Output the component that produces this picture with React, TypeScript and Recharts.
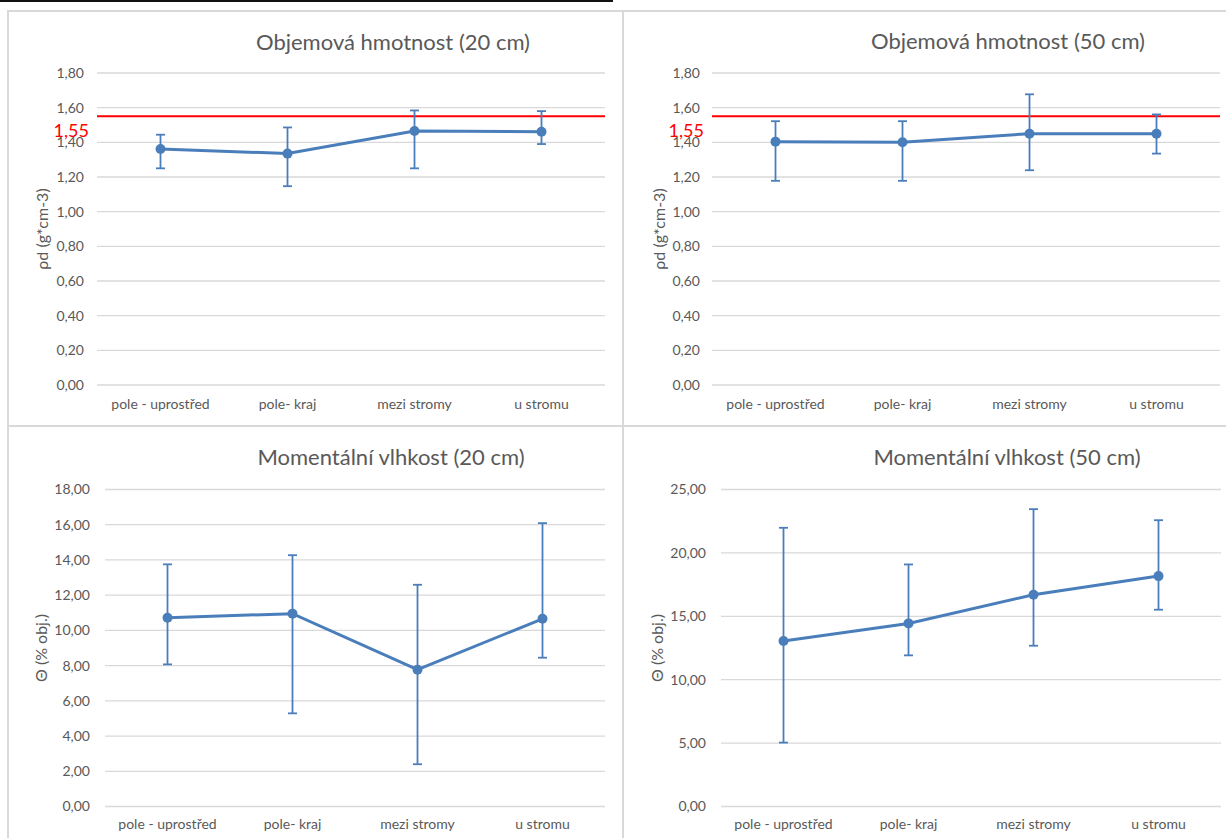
import { LineChart, Line, XAxis, YAxis, CartesianGrid, ErrorBar, ReferenceLine, Label } from "recharts"

const categories = ["pole - uprostřed", "pole- kraj", "mezi stromy", "u stromu"]

const density20Mean = [1.362, 1.335, 1.465, 1.461]
const density20Low = [1.25, 1.147, 1.25, 1.39]
const density20High = [1.444, 1.486, 1.584, 1.58]

const density50Mean = [1.404, 1.4, 1.45, 1.45]
const density50Low = [1.178, 1.178, 1.239, 1.335]
const density50High = [1.522, 1.522, 1.677, 1.561]

const moisture20Mean = [10.72, 10.95, 7.77, 10.66]
const moisture20Low = [8.07, 5.29, 2.4, 8.45]
const moisture20High = [13.75, 14.27, 12.59, 16.09]

const moisture50Mean = [13.05, 14.44, 16.7, 18.17]
const moisture50Low = [5.04, 11.92, 12.68, 15.52]
const moisture50High = [21.98, 19.09, 23.45, 22.58]

const densityTicks = [0, 0.2, 0.4, 0.6, 0.8, 1.0, 1.2, 1.4, 1.6, 1.8]
const moisture20Ticks = [0, 2, 4, 6, 8, 10, 12, 14, 16, 18]
const moisture50Ticks = [0, 5, 10, 15, 20, 25]

const LIMIT = 1.55

const FONT = "Lato, 'Open Sans', sans-serif"
const GREY = "#595959"
const BLUE = "#4a7ebb"

function build(mean: number[], low: number[], high: number[]) {
  return categories.map((name, i) => ({
    name,
    value: mean[i],
    err: [mean[i] - low[i], high[i] - mean[i]],
  }))
}

const fmt = (v: number) => v.toFixed(2).replace(".", ",")

interface PanelProps {
  left: number
  top: number
  width: number
  height: number
  plotLeft: number
  plotTop: number
  plotRight: number
  plotBottom: number
  title: string
  titleX: number
  titleY: number
  yLabel: string
  yLabelX: number
  data: { name: string; value: number; err: number[] }[]
  max: number
  ticks: number[]
  yTickGap: number
  xTickGap: number
  limit?: boolean
}

function Panel(p: PanelProps) {
  const yAxisWidth = p.plotLeft - p.left
  const xAxisHeight = p.top + p.height - p.plotBottom
  const midY = (p.plotTop + p.plotBottom) / 2
  // excel puts categories in the middle of each slot
  const half = (p.plotRight - p.plotLeft) / categories.length / 2
  return (
    <>
      <div
        style={{
          position: "absolute",
          left: p.titleX - 250,
          top: p.titleY - 13,
          width: 500,
          height: 26,
          lineHeight: "26px",
          textAlign: "center",
          fontFamily: FONT,
          fontSize: 22,
          color: GREY,
        }}
      >
        {p.title}
      </div>
      <div
        style={{
          position: "absolute",
          left: p.yLabelX - 100,
          top: midY - 10,
          width: 200,
          height: 20,
          lineHeight: "20px",
          textAlign: "center",
          fontFamily: FONT,
          fontSize: 16,
          color: GREY,
          transform: "rotate(-90deg)",
        }}
      >
        {p.yLabel}
      </div>
      <div style={{ position: "absolute", left: p.left, top: p.top }}>
        <LineChart
          width={p.width}
          height={p.height}
          data={p.data}
          margin={{ top: p.plotTop - p.top, right: p.left + p.width - p.plotRight, left: 0, bottom: 0 }}
        >
          <CartesianGrid vertical={false} stroke="#d9d9d9" strokeWidth={1.3} />
          <XAxis
            dataKey="name"
            axisLine={false}
            tickLine={false}
            tickSize={0}
            tickMargin={p.xTickGap}
            height={xAxisHeight}
            interval={0}
            padding={{ left: half, right: half }}
            tick={{ fill: GREY, fontSize: 14, fontFamily: FONT }}
          />
          <YAxis
            domain={[0, p.max]}
            ticks={p.ticks}
            axisLine={false}
            tickLine={false}
            tickSize={0}
            tickMargin={p.yTickGap}
            width={yAxisWidth}
            tickFormatter={fmt}
            tick={{ fill: GREY, fontSize: 14, fontFamily: FONT }}
          />
          {p.limit && (
            <ReferenceLine y={LIMIT} stroke="#ff0000" strokeWidth={2} ifOverflow="extendDomain">
              <Label
                value={fmt(LIMIT)}
                position="left"
                offset={8}
                dy={14}
                fill="#ff0000"
                fontSize={18}
                fontFamily={FONT}
              />
            </ReferenceLine>
          )}
          <Line
            type="linear"
            dataKey="value"
            stroke={BLUE}
            strokeWidth={3}
            dot={{ r: 5, fill: BLUE, stroke: BLUE, strokeWidth: 0 }}
            activeDot={false}
            isAnimationActive={false}
          >
            <ErrorBar dataKey="err" direction="y" width={4.5} stroke={BLUE} strokeWidth={1.8} isAnimationActive={false} />
          </Line>
        </LineChart>
      </div>
    </>
  )
}

export default function App() {
  return (
    <div
      style={{
        position: "absolute",
        left: 0,
        top: 0,
        width: 1226,
        height: 838,
        overflow: "hidden",
        background: "#fff",
      }}
    >
      <div style={{ position: "absolute", left: 0, top: 0, width: 613, height: 2, background: "#111" }} />
      <div style={{ position: "absolute", left: 7, top: 10, width: 1219, height: 2, background: "#d9d9d9" }} />
      <div style={{ position: "absolute", left: 7, top: 10, width: 2, height: 828, background: "#d9d9d9" }} />
      <div style={{ position: "absolute", left: 622, top: 10, width: 2, height: 828, background: "#d9d9d9" }} />
      <div style={{ position: "absolute", left: 7, top: 425, width: 1219, height: 2, background: "#d9d9d9" }} />

      <Panel
        left={10}
        top={12}
        width={610}
        height={413}
        plotLeft={97}
        plotTop={73}
        plotRight={605}
        plotBottom={385}
        title="Objemová hmotnost (20 cm)"
        titleX={393}
        titleY={42}
        yLabel="ρd (g*cm-3)"
        yLabelX={42}
        data={build(density20Mean, density20Low, density20High)}
        max={1.8}
        ticks={densityTicks}
        yTickGap={13}
        xTickGap={14}
        limit
      />
      <Panel
        left={625}
        top={12}
        width={601}
        height={413}
        plotLeft={712}
        plotTop={73}
        plotRight={1220}
        plotBottom={385}
        title="Objemová hmotnost (50 cm)"
        titleX={1008}
        titleY={41}
        yLabel="ρd (g*cm-3)"
        yLabelX={659}
        data={build(density50Mean, density50Low, density50High)}
        max={1.8}
        ticks={densityTicks}
        yTickGap={12}
        xTickGap={14}
        limit
      />
      <Panel
        left={10}
        top={428}
        width={610}
        height={410}
        plotLeft={105}
        plotTop={489.5}
        plotRight={605}
        plotBottom={806.5}
        title="Momentální vlhkost (20 cm)"
        titleX={391}
        titleY={457}
        yLabel="Θ (% obj.)"
        yLabelX={41}
        data={build(moisture20Mean, moisture20Low, moisture20High)}
        max={18}
        ticks={moisture20Ticks}
        yTickGap={15}
        xTickGap={13}
      />
      <Panel
        left={625}
        top={428}
        width={601}
        height={410}
        plotLeft={721}
        plotTop={489.5}
        plotRight={1221}
        plotBottom={806.5}
        title="Momentální vlhkost (50 cm)"
        titleX={1007}
        titleY={457}
        yLabel="Θ (% obj.)"
        yLabelX={657}
        data={build(moisture50Mean, moisture50Low, moisture50High)}
        max={25}
        ticks={moisture50Ticks}
        yTickGap={15}
        xTickGap={13}
      />
    </div>
  )
}
